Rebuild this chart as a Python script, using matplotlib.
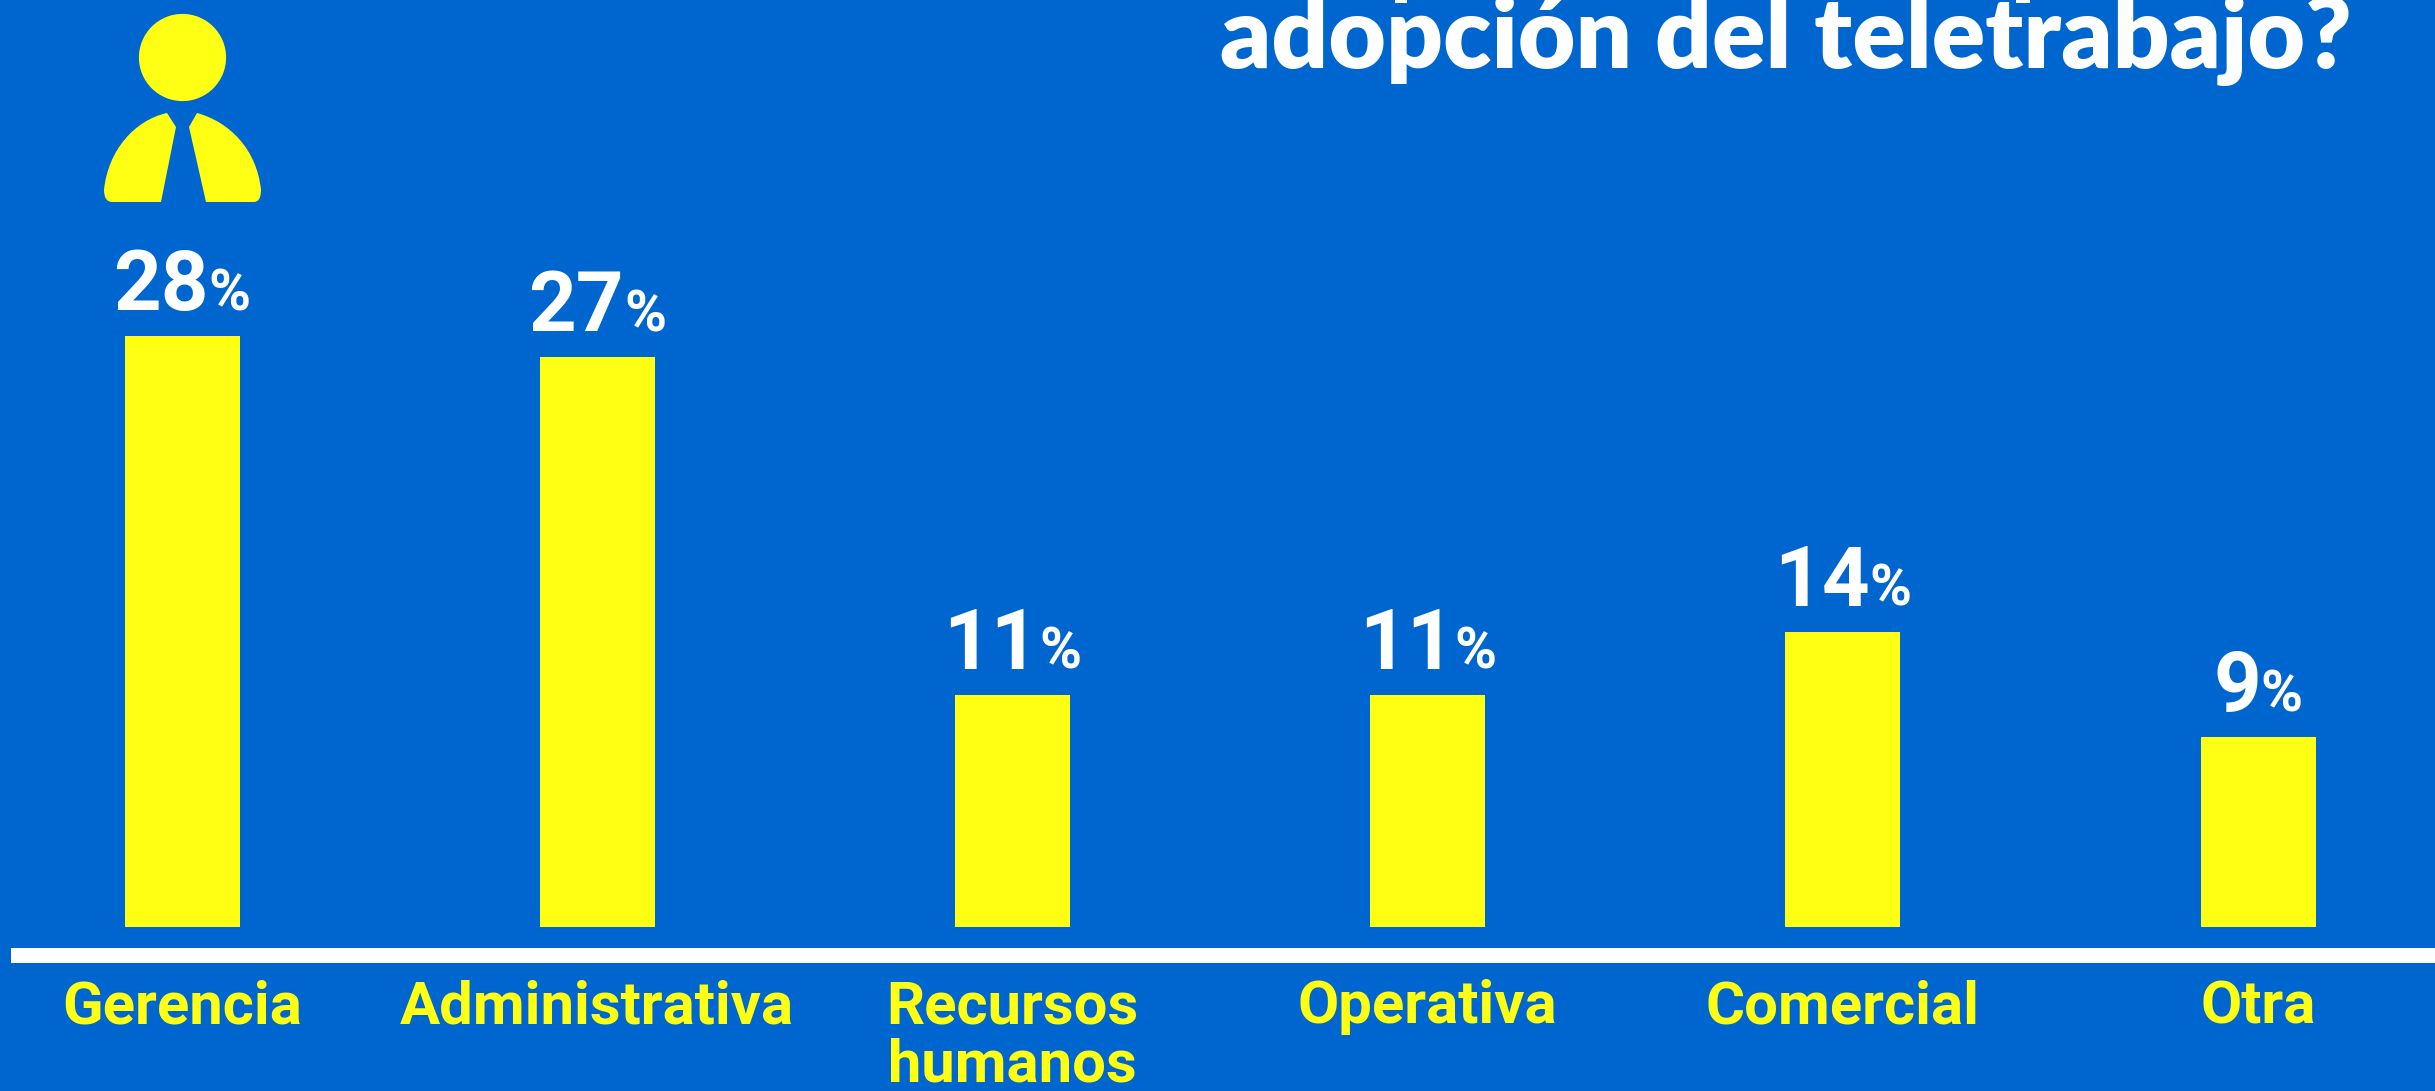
import matplotlib
matplotlib.use("Agg")
import matplotlib.pyplot as plt
from matplotlib.patches import Circle, PathPatch, Rectangle
from matplotlib.path import Path

categories = ["Gerencia", "Administrativa", "Recursos\nhumanos", "Operativa", "Comercial", "Otra"]
values = [28, 27, 11, 11, 14, 9]

BLUE = "#0066cf"
YELLOW = "#ffff14"
W, H = 2435, 1091

fig = plt.figure(figsize=(W / 100, H / 100), dpi=100, facecolor=BLUE)
ax = fig.add_axes([0, 0, 1, 1])
ax.set_facecolor(BLUE)
step = 415.2
scale = 21.1
ax.set_xlim(-182 / step, (W - 182) / step)
ax.set_ylim((927 - H) / scale, 927 / scale)
ax.axis("off")

ax.bar(range(len(values)), values, width=115 / step, color=YELLOW)

renderer = fig.canvas.get_renderer()
for i, (name, v) in enumerate(zip(categories, values)):
    num = ax.annotate(str(v), (i, v), xytext=(0, 26), textcoords="offset pixels",
                      ha="left", va="baseline", color="white", fontsize=60,
                      fontweight="bold", family="Roboto")
    pct = ax.annotate("%", (i, v), xytext=(0, 26), textcoords="offset pixels",
                      ha="left", va="baseline", color="white", fontsize=41,
                      fontweight="bold", family="Roboto")
    # centre number and % together over the bar
    w1 = num.get_window_extent(renderer).width
    w2 = pct.get_window_extent(renderer).width
    num.xyann = (-(w1 + w2) / 2, 26)
    pct.xyann = (-(w1 + w2) / 2 + w1, 26)
    ax.annotate(name, (i, 0), xytext=(0, -52), textcoords="offset pixels",
                ha="center", va="top", color=YELLOW, fontsize=43, fontweight="bold",
                family="Roboto", linespacing=1.06)

# white baseline
fig.add_artist(Rectangle((11 / W, 1 - 963 / H), 1, 15 / H, color="white", lw=0,
                         transform=fig.transFigure))

# title, the line above it is cut off by the picture edge
fig.text(2352 / W, 1 - 68 / H, "adopción del teletrabajo?", ha="right", va="baseline",
         color="white", fontsize=71.5, fontweight="heavy", family="Lato")
for x0, x1 in [(1395, 1407), (2016, 2030)]:
    fig.add_artist(Rectangle((x0 / W, 1 - 3 / H), (x1 - x0) / W, 3 / H, color="white", lw=0,
                             transform=fig.transFigure))

# person icon, drawn in pixels measured from the top
def flip(pts):
    return [(x, H - y) for x, y in pts]

fig.add_artist(Circle((182.5, H - 57.5), 43.6, color=YELLOW, lw=0, transform=None))
codes = [Path.MOVETO, Path.LINETO, Path.LINETO, Path.LINETO, Path.CURVE3, Path.CURVE3,
         Path.CURVE4, Path.CURVE4, Path.CURVE4]
left = [(167, 113), (176, 127), (161, 202), (112, 202), (104, 202), (104, 190),
        (108, 150), (135, 120), (167, 113)]
right = [(197, 113), (189, 127), (206, 202), (254, 202), (261, 202), (261, 190),
         (257, 150), (230, 122), (197, 113)]
for pts in (left, right):
    fig.add_artist(PathPatch(Path(flip(pts), codes), facecolor=YELLOW, lw=0, transform=None))

fig.savefig("out.png", dpi=100, facecolor=BLUE)
